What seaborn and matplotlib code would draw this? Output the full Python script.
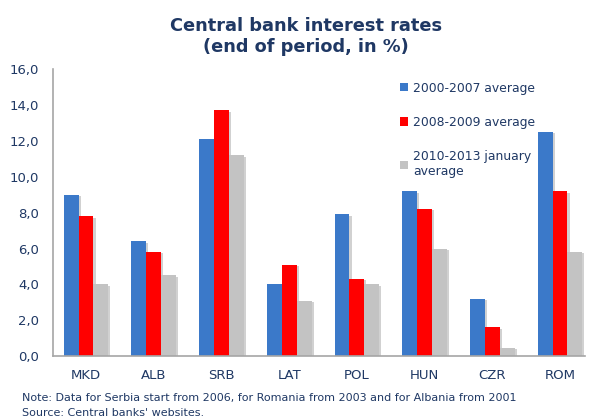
import matplotlib
matplotlib.use("Agg")
import matplotlib.pyplot as plt
import matplotlib.patheffects as pe
from matplotlib.ticker import FuncFormatter
import pandas as pd
import seaborn as sns

countries = ["MKD", "ALB", "SRB", "LAT", "POL", "HUN", "CZR", "ROM"]
period_labels = ["2000-2007 average", "2008-2009 average", "2010-2013 january\naverage"]
avg_2000_2007 = [9.0, 6.4, 12.1, 4.0, 7.9, 9.2, 3.2, 12.5]
avg_2008_2009 = [7.8, 5.8, 13.7, 5.1, 4.3, 8.2, 1.6, 9.2]
avg_2010_2013 = [4.0, 4.5, 11.2, 3.1, 4.0, 6.0, 0.45, 5.8]
y_ticks = [0, 2, 4, 6, 8, 10, 12, 14, 16]

NAVY = "#1F3864"
colors = ["#3B79C9", "#FF0000", "#C3C3C3"]

rows = []
for label, values in zip(period_labels, [avg_2000_2007, avg_2008_2009, avg_2010_2013]):
    for c, v in zip(countries, values):
        rows.append({"country": c, "period": label, "rate": v})
df = pd.DataFrame(rows)

sns.set_style("white")
plt.rcParams["font.family"] = ["DejaVu Sans"]

fig = plt.figure(figsize=(5.91, 4.19), dpi=100)
ax = fig.add_axes([0.0897, 0.150, 0.9003, 0.685])

sns.barplot(data=df, x="country", y="rate", hue="period", order=countries,
            hue_order=period_labels, palette=colors, saturation=1, width=0.66,
            gap=0, edgecolor="none", linewidth=0, ax=ax)

shadow = [pe.SimplePatchShadow(offset=(1.5, -1), shadow_rgbFace="#000000", alpha=0.18), pe.Normal()]
for patch in ax.patches:
    patch.set_path_effects(shadow)

ax.set_ylim(0, 16)
ax.set_xlim(-0.487, 7.37)
ax.set_yticks(y_ticks)
ax.yaxis.set_major_formatter(FuncFormatter(lambda v, _: f"{v:.1f}".replace(".", ",")))
ax.set_xlabel("")
ax.set_ylabel("")
ax.tick_params(axis="both", length=0, labelsize=9.5, colors=NAVY)
ax.tick_params(axis="y", pad=10)
ax.tick_params(axis="x", pad=9)

for side in ["top", "right"]:
    ax.spines[side].set_visible(False)
for side in ["left", "bottom"]:
    ax.spines[side].set_color("#A6A6A6")
    ax.spines[side].set_linewidth(1.2)

handles, labels = ax.get_legend_handles_labels()
leg = ax.legend(handles, labels, loc="upper left", bbox_to_anchor=(0.632, 0.995),
                frameon=False, fontsize=8.9, handlelength=0.65, handleheight=0.65,
                handletextpad=0.35, labelspacing=1.72, labelcolor=NAVY)
for h in leg.legend_handles:
    h.set_path_effects([])

fig.text(0.518, 0.96, "Central bank interest rates\n(end of period, in %)",
         ha="center", va="top", fontsize=12.8, fontweight="bold", color=NAVY,
         linespacing=1.22)

fig.text(0.037, 0.038, "Note: Data for Serbia start from 2006, for Romania from 2003 and for Albania from 2001",
         ha="left", va="bottom", fontsize=8.0, color=NAVY)
fig.text(0.037, 0.002, "Source: Central banks' websites.",
         ha="left", va="bottom", fontsize=8.0, color=NAVY)

fig.savefig("out.png", dpi=100)
